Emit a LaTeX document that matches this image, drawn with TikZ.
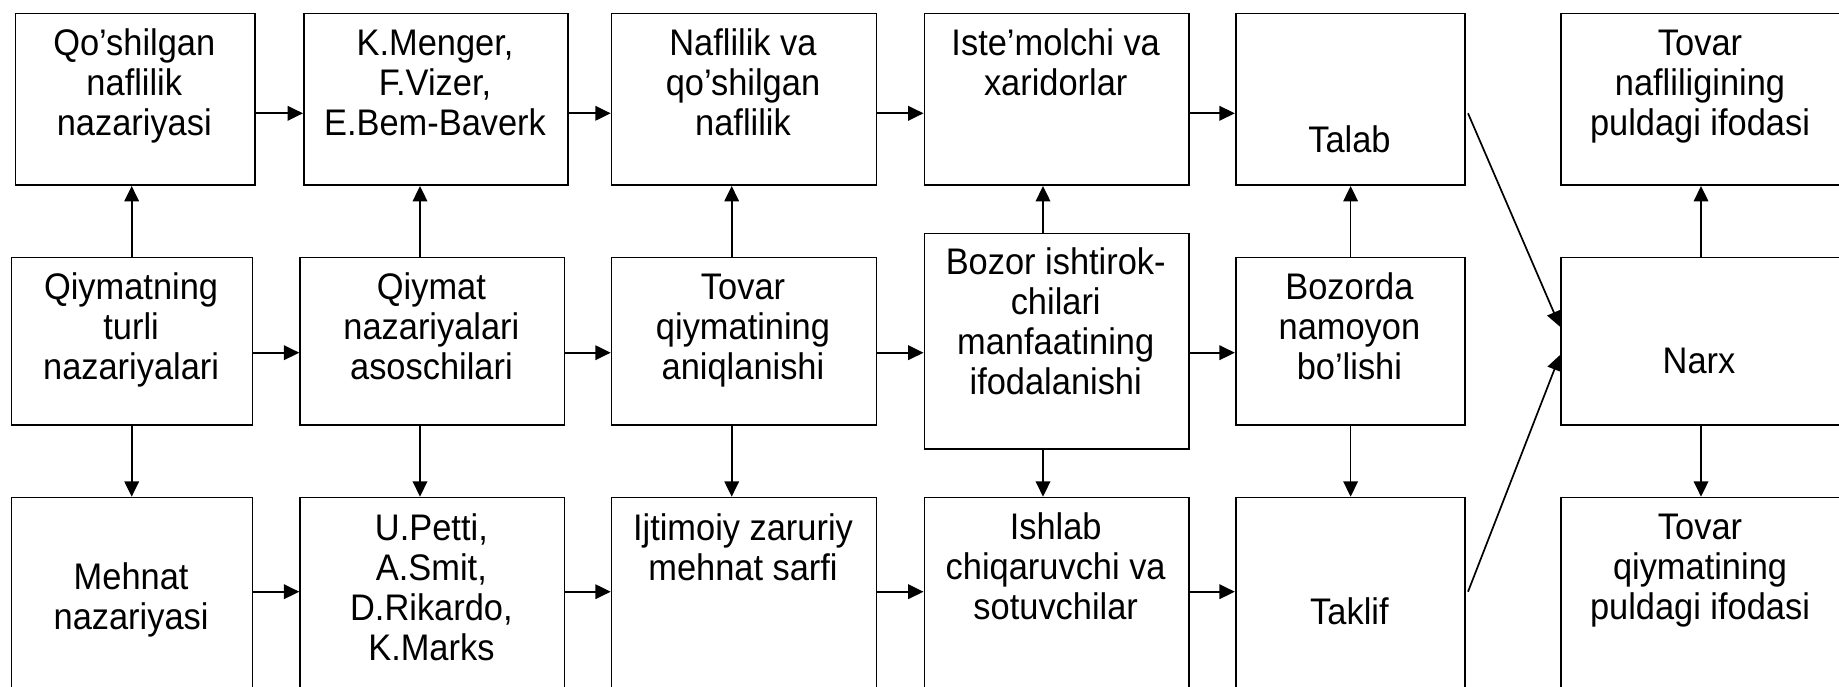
\documentclass[tikz,border=0pt]{standalone}
\usepackage{fontspec}
\setmainfont{Liberation Sans}[FakeStretch=0.93]
\usetikzlibrary{arrows.meta}
\tikzset{
  box/.style={draw, line width=0.85pt, anchor=north west, inner sep=0pt},
  txt/.style={align=center, inner sep=0pt, anchor=base, font=\fontsize{18.5}{20}\selectfont},
  arr/.style={line width=0.85pt, -{Triangle[length=7.7pt,width=7.3pt]}}
}
\begin{document}
\begin{tikzpicture}[x=0.5pt,y=-0.5pt]
\fill[white] (0,0) rectangle (1839,686);
\useasboundingbox (0,0) rectangle (1839,686);
\clip (0,0) rectangle (1839,686);
% top row
\node[box, minimum width=119.7pt, minimum height=85.8pt] (A1) at (14.6,12.7) {};
\node[box, minimum width=132pt, minimum height=85.8pt] (A2) at (303,12.7) {};
\node[box, minimum width=132.5pt, minimum height=85.8pt] (A3) at (610.7,12.7) {};
\node[box, minimum width=132.25pt, minimum height=85.8pt] (A4) at (923.5,12.7) {};
\node[box, minimum width=114.6pt, minimum height=85.8pt] (A5) at (1234.8,12.7) {};
\node[box, minimum width=141pt, minimum height=85.8pt] (A6) at (1560,12.7) {};
% middle row
\node[box, minimum width=120.4pt, minimum height=83.8pt] (B1) at (10.7,256.7) {};
\node[box, minimum width=132.1pt, minimum height=83.8pt] (B2) at (299.3,256.7) {};
\node[box, minimum width=132.5pt, minimum height=83.8pt] (B3) at (610.7,256.7) {};
\node[box, minimum width=132.25pt, minimum height=107.9pt] (B4) at (923.5,232.5) {};
\node[box, minimum width=114.6pt, minimum height=83.8pt] (B5) at (1234.8,256.7) {};
\node[box, minimum width=141pt, minimum height=83.8pt] (B6) at (1560,256.7) {};
% bottom row
\node[box, minimum width=120.4pt, minimum height=111.7pt] (C1) at (10.7,496.7) {};
\node[box, minimum width=132.1pt, minimum height=111.7pt] (C2) at (299.3,496.7) {};
\node[box, minimum width=132.5pt, minimum height=111.7pt] (C3) at (610.7,496.7) {};
\node[box, minimum width=132.25pt, minimum height=111.7pt] (C4) at (923.5,496.7) {};
\node[box, minimum width=114.6pt, minimum height=111.7pt] (C5) at (1234.8,496.7) {};
\node[box, minimum width=141pt, minimum height=111.7pt] (C6) at (1560,496.7) {};
% texts (anchored at the baseline of the last line)
\node[txt] (tA1) at (134.3,135) {Qo’shilgan\\naflilik\\nazariyasi};
\node[txt] (tA2) at (435,135) {K.Menger,\\F.Vizer,\\E.Bem-Baverk};
\node[txt] (tA3) at (743,135) {Naflilik va\\qo’shilgan\\naflilik};
\node[txt] (tA4) at (1055.7,95) {Iste’molchi va\\xaridorlar};
\node[txt] (tA5) at (1349.4,152) {Talab};
\node[txt] (tA6) at (1700,135) {Tovar\\nafliligining\\puldagi ifodasi};
\node[txt] (tB1) at (131.1,379) {Qiymatning\\turli\\nazariyalari};
\node[txt] (tB2) at (431.4,379) {Qiymat\\nazariyalari\\asoschilari};
\node[txt] (tB3) at (743,379) {Tovar\\qiymatining\\aniqlanishi};
\node[txt] (tB4) at (1055.7,394) {Bozor ishtirok-\\chilari\\manfaatining\\ifodalanishi};
\node[txt] (tB5) at (1349.4,379) {Bozorda\\namoyon\\bo’lishi};
\node[txt] (tB6) at (1699,373) {Narx};
\node[txt] (tC1) at (131.1,629) {Mehnat\\nazariyasi};
\node[txt] (tC2) at (431.4,660) {U.Petti,\\A.Smit,\\D.Rikardo,\\K.Marks};
\node[txt] (tC3) at (743,580) {Ijtimoiy zaruriy\\mehnat sarfi};
\node[txt] (tC4) at (1055.7,619) {Ishlab\\chiqaruvchi va\\sotuvchilar};
\node[txt] (tC5) at (1349.4,624) {Taklif};
\node[txt] (tC6) at (1700,619) {Tovar\\qiymatining\\puldagi ifodasi};
% reference levels
\coordinate (ya) at (0,113.3);
\coordinate (yb) at (0,352.7);
\coordinate (yc) at (0,591.7);
\coordinate (x1) at (131.7,0);
\coordinate (x2) at (420,0);
\coordinate (x3) at (731.7,0);
\coordinate (x4) at (1043,0);
\coordinate (x5) at (1350.6,0);
\coordinate (x6) at (1701,0);
% horizontal arrows
\draw[arr] (A1.east |- ya) -- (A2.west |- ya);
\draw[arr] (A2.east |- ya) -- (A3.west |- ya);
\draw[arr] (A3.east |- ya) -- (A4.west |- ya);
\draw[arr] (A4.east |- ya) -- (A5.west |- ya);
\draw[arr] (B1.east |- yb) -- (B2.west |- yb);
\draw[arr] (B2.east |- yb) -- (B3.west |- yb);
\draw[arr] (B3.east |- yb) -- (B4.west |- yb);
\draw[arr] (B4.east |- yb) -- (B5.west |- yb);
\draw[arr] (C1.east |- yc) -- (C2.west |- yc);
\draw[arr] (C2.east |- yc) -- (C3.west |- yc);
\draw[arr] (C3.east |- yc) -- (C4.west |- yc);
\draw[arr] (C4.east |- yc) -- (C5.west |- yc);
% vertical arrows
\draw[arr] (B1.north -| x1) -- (A1.south -| x1);
\draw[arr] (B1.south -| x1) -- (C1.north -| x1);
\draw[arr] (B2.north -| x2) -- (A2.south -| x2);
\draw[arr] (B2.south -| x2) -- (C2.north -| x2);
\draw[arr] (B3.north -| x3) -- (A3.south -| x3);
\draw[arr] (B3.south -| x3) -- (C3.north -| x3);
\draw[arr] (B4.north -| x4) -- (A4.south -| x4);
\draw[arr] (B4.south -| x4) -- (C4.north -| x4);
\draw[arr] (B5.north -| x5) -- (A5.south -| x5);
\draw[arr] (B5.south -| x5) -- (C5.north -| x5);
\draw[arr] (B6.north -| x6) -- (A6.south -| x6);
\draw[arr] (B6.south -| x6) -- (C6.north -| x6);
% diagonals
\coordinate (d1) at (1468,113.3);
\coordinate (d2) at (1468,591.7);
\coordinate (e1) at (0,326.7);
\coordinate (e2) at (0,355);
\draw[arr] (d1) -- (B6.west |- e1);
\draw[arr] (d2) -- (B6.west |- e2);
\end{tikzpicture}
\end{document}
